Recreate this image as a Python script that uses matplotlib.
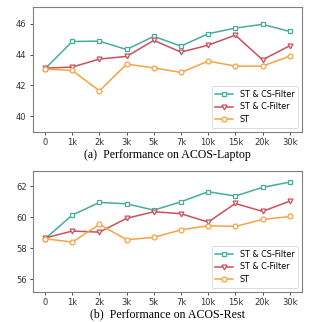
import matplotlib
matplotlib.use("Agg")
import matplotlib.pyplot as plt

# x-axis categories (amount of extra data)
sizes = ['0', '1k', '2k', '3k', '5k', '7k', '10k', '15k', '20k', '30k']

# (a) ACOS-Laptop
laptop_cs = [43.08, 44.85, 44.87, 44.33, 45.18, 44.55, 45.35, 45.72, 45.96, 45.50]
laptop_c = [43.12, 43.19, 43.71, 43.88, 44.92, 44.16, 44.61, 45.26, 43.66, 44.57]
laptop_st = [43.06, 42.97, 41.65, 43.38, 43.14, 42.84, 43.58, 43.25, 43.25, 43.90]

# (b) ACOS-Rest
rest_cs = [58.62, 60.15, 60.97, 60.88, 60.47, 61.01, 61.66, 61.38, 61.94, 62.28]
rest_c = [58.67, 59.12, 59.05, 59.94, 60.37, 60.24, 59.70, 60.90, 60.39, 61.05]
rest_st = [58.62, 58.41, 59.55, 58.56, 58.71, 59.20, 59.46, 59.42, 59.87, 60.06]

labels = ['ST & CS-Filter', 'ST & C-Filter', 'ST']
colors = ['#45ad9b', '#c9505c', '#f8a244']
markers = ['s', 'v', 'o']

fig = plt.figure(figsize=(3.25, 3.22), dpi=100)
ax1 = fig.add_axes([0.101, 0.591, 0.828, 0.388])
ax2 = fig.add_axes([0.101, 0.094, 0.828, 0.375])


def draw(ax, series, ylim, yticks, caption):
    x = range(len(sizes))
    for ys, lab, c, m in zip(series, labels, colors, markers):
        ax.plot(x, ys, color=c, marker=m, markersize=3.5, markerfacecolor='white',
                markeredgecolor=c, markeredgewidth=0.9, linewidth=1.1, label=lab)
    ax.set_xticks(list(x))
    ax.set_xticklabels(sizes)
    ax.set_ylim(*ylim)
    ax.set_yticks(yticks)
    ax.tick_params(labelsize=6, colors='#333333', length=2.5, width=0.6, pad=2)
    for sp in ax.spines.values():
        sp.set_color('#808080')
        sp.set_linewidth(0.8)
    leg = ax.legend(loc='lower right', fontsize=5.8, handlelength=2.2,
                    borderpad=0.45, labelspacing=0.45, fancybox=True)
    leg.get_frame().set_linewidth(0.6)
    ax.text(0.5, -0.19, caption, transform=ax.transAxes, ha='center', va='center',
            fontsize=8.6, family='Liberation Serif')


draw(ax1, [laptop_cs, laptop_c, laptop_st], (39.0, 47.1), [40, 42, 44, 46],
     '(a)  Performance on ACOS-Laptop')
draw(ax2, [rest_cs, rest_c, rest_st], (55.2, 63.0), [56, 58, 60, 62],
     '(b)  Performance on ACOS-Rest')

fig.savefig('out.png', dpi=100)
